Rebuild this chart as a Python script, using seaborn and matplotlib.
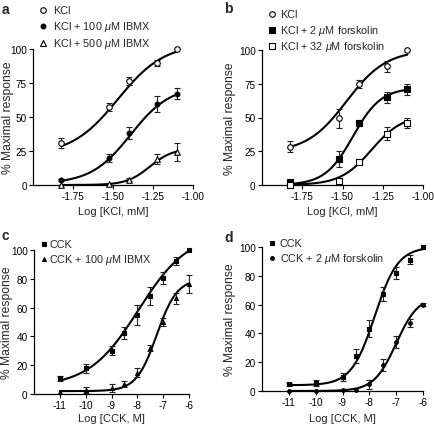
import numpy as np
import pandas as pd
import matplotlib
matplotlib.use("Agg")
import matplotlib.pyplot as plt
import seaborn as sns
from matplotlib.lines import Line2D

# ---------------- data ----------------
kcl_x = [-1.824, -1.523, -1.398, -1.222, -1.097]          # log [KCl, M]
cck_x = [-11, -10, -9, -8.5, -8, -7.5, -7, -6.5, -6]       # log [CCK, M]

# panel a
a_kcl = [30.8, 57.5, 76.5, 89.6, 100.0]
a_kcl_err = [3.9, 3.0, 3.0, 2.0, 0.0]
a_ibmx100 = [3.6, 20.1, 38.1, 59.5, 67.2]
a_ibmx100_err = [1.0, 3.0, 4.5, 5.7, 4.0]
a_ibmx500 = [0.0, 1.0, 4.0, 19.0, 24.0]
a_ibmx500_err = [0.0, 0.0, 1.0, 3.8, 6.7]
# fitted sigmoid parameters [bottom, top, logEC50, hill]
a_kcl_fit = [22, 104, -1.47, 3.0]
a_ibmx100_fit = [1, 73, -1.39, 3.5]
a_ibmx500_fit = [0, 27, -1.27, 6.0]

# panel b
b_kcl = [28.4, 49.5, 75.1, 88.0, 100.0]
b_kcl_err = [4.0, 7.0, 3.0, 4.0, 0.0]
b_fsk2 = [2.0, 19.0, 46.0, 65.0, 71.0]
b_fsk2_err = [1.0, 6.0, 2.0, 4.0, 4.0]
b_fsk32 = [0.0, 3.0, 17.0, 38.0, 46.0]
b_fsk32_err = [0.0, 0.0, 2.0, 5.0, 4.0]
b_kcl_fit = [24, 100, -1.475, 3.5]
b_fsk2_fit = [0, 72, -1.435, 5.0]
b_fsk32_fit = [0, 52, -1.32, 4.5]

# panel c
c_cck = [10.8, 17.8, 30.0, 42.3, 54.7, 68.0, 80.5, 92.3, 100.0]
c_cck_err = [2.0, 3.0, 3.0, 4.0, 7.0, 6.0, 4.0, 3.0, 0.0]
c_ibmx = [1.4, 3.0, 4.2, 7.0, 14.8, 32.0, 50.0, 66.4, 76.3]
c_ibmx_err = [0.0, 2.0, 3.0, 2.0, 3.0, 2.0, 3.0, 4.0, 6.0]
c_cck_fit = [5, 112, -7.95, 0.45]
c_ibmx_fit = [2, 80, -7.25, 1.1]

# panel d
d_cck = [4.6, 5.8, 9.7, 24.2, 43.4, 67.4, 82.0, 91.2, 100.0]
d_cck_err = [1.0, 2.0, 3.0, 5.0, 6.0, 5.0, 4.0, 3.0, 0.0]
d_fsk = [0.0, 0.0, 0.5, 0.5, 4.6, 18.0, 34.2, 47.3, 60.0]
d_fsk_err = [0.0, 0.0, 0.0, 0.0, 3.0, 4.0, 4.0, 3.0, 1.0]
d_cck_fit = [4, 100, -7.8, 1.0]
d_fsk_fit = [0, 66, -7.0, 1.05]

kcl_ticks = [-1.75, -1.50, -1.25, -1.00]
kcl_ticklabels = ["-1.75", "-1.50", "-1.25", "-1.00"]
cck_ticks = [-11, -10, -9, -8, -7, -6]
cck_ticklabels = ["-11", "-10", "-9", "-8", "-7", "-6"]

# ---------------- style ----------------
sns.set_theme(style="ticks")
plt.rcParams['font.family'] = ['Liberation Sans', 'DejaVu Sans']
plt.rcParams['axes.unicode_minus'] = False
plt.rcParams['mathtext.fontset'] = 'custom'
plt.rcParams['mathtext.rm'] = 'Liberation Sans'
plt.rcParams['mathtext.it'] = 'Liberation Sans:italic'

W, H = 434, 427
fig = plt.figure(figsize=(W / 100, H / 100), dpi=100)


def rect(x0, x1, ytop, ybot):
    return [x0 / W, 1 - ybot / H, (x1 - x0) / W, (ybot - ytop) / H]


def logistic(x, p):
    b, t, c, h = p
    return b + (t - b) / (1 + 10 ** ((c - x) * h))


MU = r"$\mu$"

panels = [
    dict(rect=rect(33, 193, 50, 186), xlim=(-2.0, -1.0), x=kcl_x,
         yticks=[0, 25, 50, 75, 100], xticks=kcl_ticks, xtl=kcl_ticklabels,
         xlabel="Log [KCl, mM]", letter="a", letter_xy=(2, 14),
         ylab_x=8, xlab_y=212, leg_x=43, leg_tx=53, leg_y=[11, 27, 44],
         series=[
             ("KCl", a_kcl, a_kcl_err, a_kcl_fit, "o", False, 16),
             ("KCl + 100 " + MU + "M IBMX", a_ibmx100, a_ibmx100_err, a_ibmx100_fit, "o", True, 12),
             ("KCl + 500 " + MU + "M IBMX", a_ibmx500, a_ibmx500_err, a_ibmx500_fit, "^", False, 16),
         ]),
    dict(rect=rect(262, 423, 51, 186), xlim=(-2.0, -1.0), x=kcl_x,
         yticks=[0, 25, 50, 75, 100], xticks=kcl_ticks, xtl=kcl_ticklabels,
         xlabel="Log [KCl, mM]", letter="b", letter_xy=(224, 13),
         ylab_x=230, xlab_y=212, leg_x=272, leg_tx=280, leg_y=[15, 31, 47],
         series=[
             ("KCl", b_kcl, b_kcl_err, b_kcl_fit, "o", False, 16),
             ("KCl + 2 " + MU + "M forskolin", b_fsk2, b_fsk2_err, b_fsk2_fit, "s", True, 14),
             ("KCl + 32 " + MU + "M forskolin", b_fsk32, b_fsk32_err, b_fsk32_fit, "s", False, 16),
         ]),
    dict(rect=rect(34, 189, 251, 395), xlim=(-12, -6), x=cck_x,
         yticks=[0, 20, 40, 60, 80, 100], xticks=cck_ticks, xtl=cck_ticklabels,
         xlabel="Log [CCK, M]", letter="c", letter_xy=(2, 240),
         ylab_x=7, xlab_y=419, leg_x=44, leg_tx=49, leg_y=[245, 260],
         series=[
             ("CCK", c_cck, c_cck_err, c_cck_fit, "s", True, 6),
             ("CCK + 100 " + MU + "M IBMX", c_ibmx, c_ibmx_err, c_ibmx_fit, "^", True, 8),
         ]),
    dict(rect=rect(262, 423, 248, 392), xlim=(-12, -6), x=cck_x,
         yticks=[0, 20, 40, 60, 80, 100], xticks=cck_ticks, xtl=cck_ticklabels,
         xlabel="Log [CCK, M]", letter="d", letter_xy=(224, 242),
         ylab_x=230, xlab_y=419, leg_x=272, leg_tx=280, leg_y=[244, 259],
         series=[
             ("CCK", d_cck, d_cck_err, d_cck_fit, "s", True, 7),
             ("CCK + 2 " + MU + "M forskolin", d_fsk, d_fsk_err, d_fsk_fit, "o", True, 7),
         ]),
]

for P in panels:
    ax = fig.add_axes(P["rect"])
    x = np.asarray(P["x"], dtype=float)
    for label, y, err, fit, mk, filled, s in P["series"]:
        y = np.asarray(y, dtype=float)
        err = np.asarray(err, dtype=float)
        xs = np.linspace(x.min(), x.max(), 200)
        curve = pd.DataFrame({"x": xs, "y": logistic(xs, fit)})
        sns.lineplot(data=curve, x="x", y="y", ax=ax, color="black", lw=1.5,
                     zorder=2, clip_on=False)
        m = err > 0
        ax.errorbar(x[m], y[m], yerr=err[m], fmt="none", ecolor="#222222",
                    elinewidth=0.8, capsize=2.4, capthick=0.8, zorder=2.5,
                    clip_on=False)
        pts = pd.DataFrame({"x": x, "y": y})
        sns.scatterplot(data=pts, x="x", y="y", ax=ax, marker=mk, s=s,
                        facecolor="black" if filled else "white",
                        edgecolor="black", linewidth=0.8, zorder=3,
                        clip_on=False)
    ax.set_xlim(*P["xlim"])
    ax.set_ylim(0, 100)
    ax.set_yticks(P["yticks"])
    ax.set_yticklabels([str(v) for v in P["yticks"]])
    ax.set_xticks(P["xticks"])
    ax.set_xticklabels(P["xtl"])
    ax.tick_params(axis="both", labelsize=7.2, length=3, width=0.8,
                   colors="black", pad=1.5)
    for sp in ["left", "bottom"]:
        ax.spines[sp].set_linewidth(0.9)
        ax.spines[sp].set_color("black")
    sns.despine(ax=ax)

    x0, _, w, _ = P["rect"]
    rx0 = x0 * W
    ax.set_ylabel("% Maximal response", fontsize=8.7)
    ax.yaxis.label.set_va("center")
    ax.yaxis.set_label_coords((P["ylab_x"] - rx0) / (w * W), 0.5)
    _, y0, _, h = P["rect"]
    ybot = (1 - y0) * H
    ax.set_xlabel(P["xlabel"], fontsize=8.0)
    ax.xaxis.label.set_va("center")
    ax.xaxis.set_label_coords(0.5, -(P["xlab_y"] - ybot) / (h * H))

    fig.text(P["letter_xy"][0] / W, 1 - P["letter_xy"][1] / H, P["letter"],
             fontsize=10, fontweight="bold", ha="left", va="baseline")

    for (label, y, err, fit, mk, filled, s), ly in zip(P["series"], P["leg_y"]):
        fig.add_artist(Line2D([P["leg_x"] / W], [1 - ly / H], marker=mk,
                              markersize=np.sqrt(s),
                              markerfacecolor="black" if filled else "white",
                              markeredgecolor="black", markeredgewidth=0.8,
                              linestyle="none", transform=fig.transFigure))
        fig.text(P["leg_tx"] / W, 1 - ly / H, label, fontsize=7.8,
                 ha="left", va="center")

fig.savefig("out.png", dpi=100, facecolor="white")
